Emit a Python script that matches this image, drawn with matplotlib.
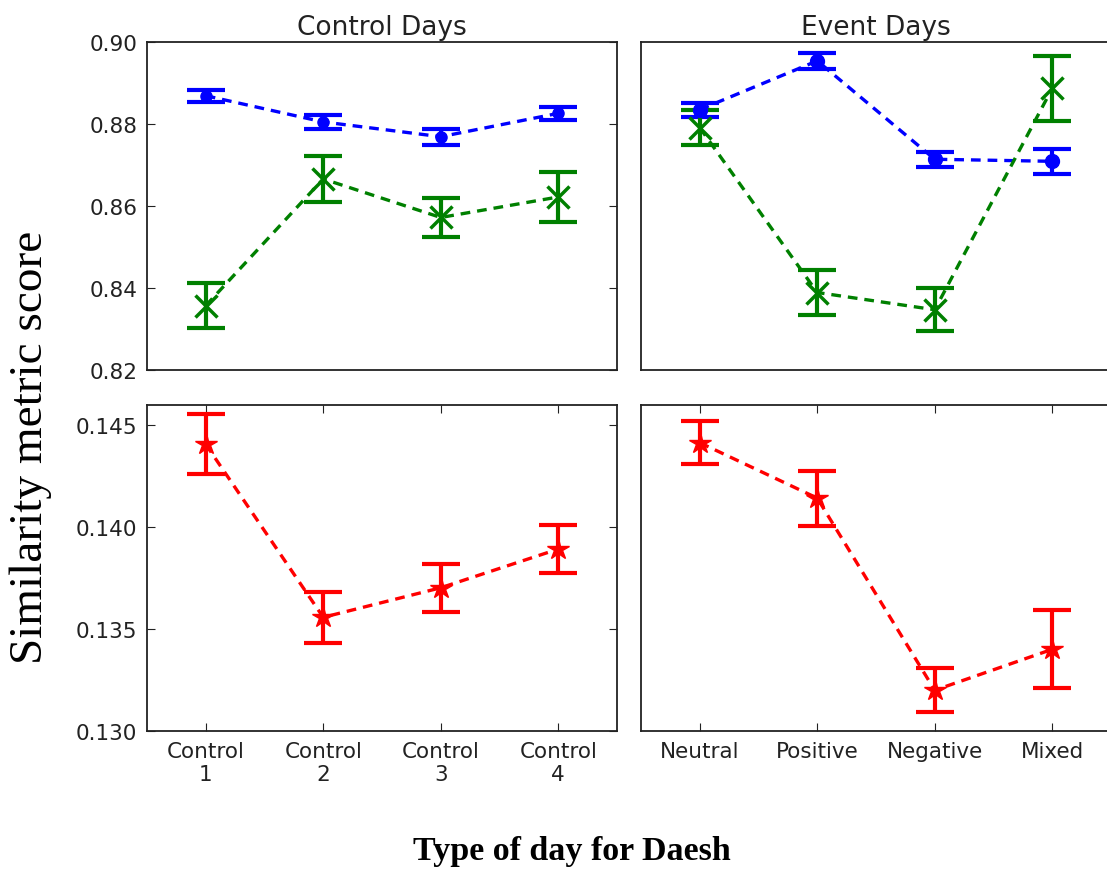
import matplotlib
matplotlib.use("Agg")
import matplotlib.pyplot as plt
from matplotlib.ticker import FormatStrFormatter

plt.rcParams["font.family"] = "DejaVu Sans"
plt.rcParams["lines.scale_dashes"] = False
plt.rcParams["lines.dashed_pattern"] = [7, 5]

positions = [1, 2, 3, 4]
control_labels = ["Control\n1", "Control\n2", "Control\n3", "Control\n4"]
event_labels = ["Neutral", "Positive", "Negative", "Mixed"]

# upper panels: two similarity series
ctrl_blue = [0.8869, 0.8805, 0.8769, 0.8826]
ctrl_blue_err = [0.0015, 0.0016, 0.0020, 0.0016]
ctrl_green = [0.8357, 0.8666, 0.8572, 0.8622]
ctrl_green_err = [0.0054, 0.0056, 0.0048, 0.0062]

event_blue = [0.8835, 0.8954, 0.8714, 0.8709]
event_blue_err = [0.0017, 0.0019, 0.0018, 0.0031]
event_green = [0.8791, 0.8389, 0.8347, 0.8887]
event_green_err = [0.0042, 0.0056, 0.0053, 0.0080]

# lower panels
ctrl_red = [0.14407, 0.13558, 0.13703, 0.13893]
ctrl_red_err = [0.00148, 0.00126, 0.00119, 0.00118]
event_red = [0.14415, 0.14143, 0.13200, 0.13401]
event_red_err = [0.00106, 0.00135, 0.00108, 0.00191]

W, H = 1107, 870
fig = plt.figure(figsize=(W / 100, H / 100), dpi=100)


def make_axes(left, top, right, bottom):
    return fig.add_axes([left / W, 1 - bottom / H, (right - left) / W, (bottom - top) / H])


ax_tl = make_axes(147, 43, 617, 371)
ax_tr = make_axes(641, 43, 1111, 371)
ax_bl = make_axes(147, 406, 617, 732)
ax_br = make_axes(641, 406, 1111, 732)


def series(ax, y, err, color, marker, ms, mew=1.0):
    # dashed connecting line
    ax.plot(positions, y, ls="--", lw=2.4, color=color, zorder=2)
    # thick error bars and caps
    _, caps, bars = ax.errorbar(positions, y, yerr=err, fmt="none", ecolor=color,
                                elinewidth=3, capsize=14, capthick=3, zorder=3)
    for c in caps:
        c.set_markeredgewidth(3)
    # markers drawn over the bars
    ax.plot(positions, y, ls="none", color=color, marker=marker, ms=ms,
            mew=mew, mec=color, zorder=4)


series(ax_tl, ctrl_blue, ctrl_blue_err, "b", "o", 8)
series(ax_tl, ctrl_green, ctrl_green_err, "g", "x", 16, mew=2.5)
series(ax_tr, event_blue, event_blue_err, "b", "o", 10)
series(ax_tr, event_green, event_green_err, "g", "x", 16, mew=2.5)
series(ax_bl, ctrl_red, ctrl_red_err, "r", "*", 16)
series(ax_br, event_red, event_red_err, "r", "*", 16)

for ax in (ax_tl, ax_tr, ax_bl, ax_br):
    ax.set_xlim(0.5, 4.5)
    ax.tick_params(direction="in", top=True, right=True, length=6, width=0.8,
                   labelsize=15.5, pad=7, colors="#222222")
    for sp in ax.spines.values():
        sp.set_linewidth(1.3)
        sp.set_color("#222222")

for ax in (ax_tl, ax_tr):
    ax.set_ylim(0.82, 0.90)
    ax.set_xticks([])
for ax in (ax_bl, ax_br):
    ax.set_ylim(0.130, 0.146)
    ax.set_xticks(positions)

ax_tl.set_yticks([0.82, 0.84, 0.86, 0.88, 0.90])
ax_tl.yaxis.set_major_formatter(FormatStrFormatter("%.2f"))
ax_bl.set_yticks([0.130, 0.135, 0.140, 0.145])
ax_bl.yaxis.set_major_formatter(FormatStrFormatter("%.3f"))
ax_tr.set_yticks([])
ax_br.set_yticks([])

ax_bl.set_xticklabels(control_labels)
ax_br.set_xticklabels(event_labels)

ax_tl.set_title("Control Days", fontsize=19, pad=6, color="#222222")
ax_tr.set_title("Event Days", fontsize=19, pad=6, color="#222222")

fig.text(31 / W, 1 - 447 / H, "Similarity metric score", rotation=90,
         ha="center", va="center", fontsize=34, family="Liberation Serif")
fig.text(572 / W, 1 - 852 / H, "Type of day for Daesh", ha="center",
         va="center", fontsize=24.5, fontweight="bold", family="Liberation Serif")

fig.savefig("out.png", dpi=100)
